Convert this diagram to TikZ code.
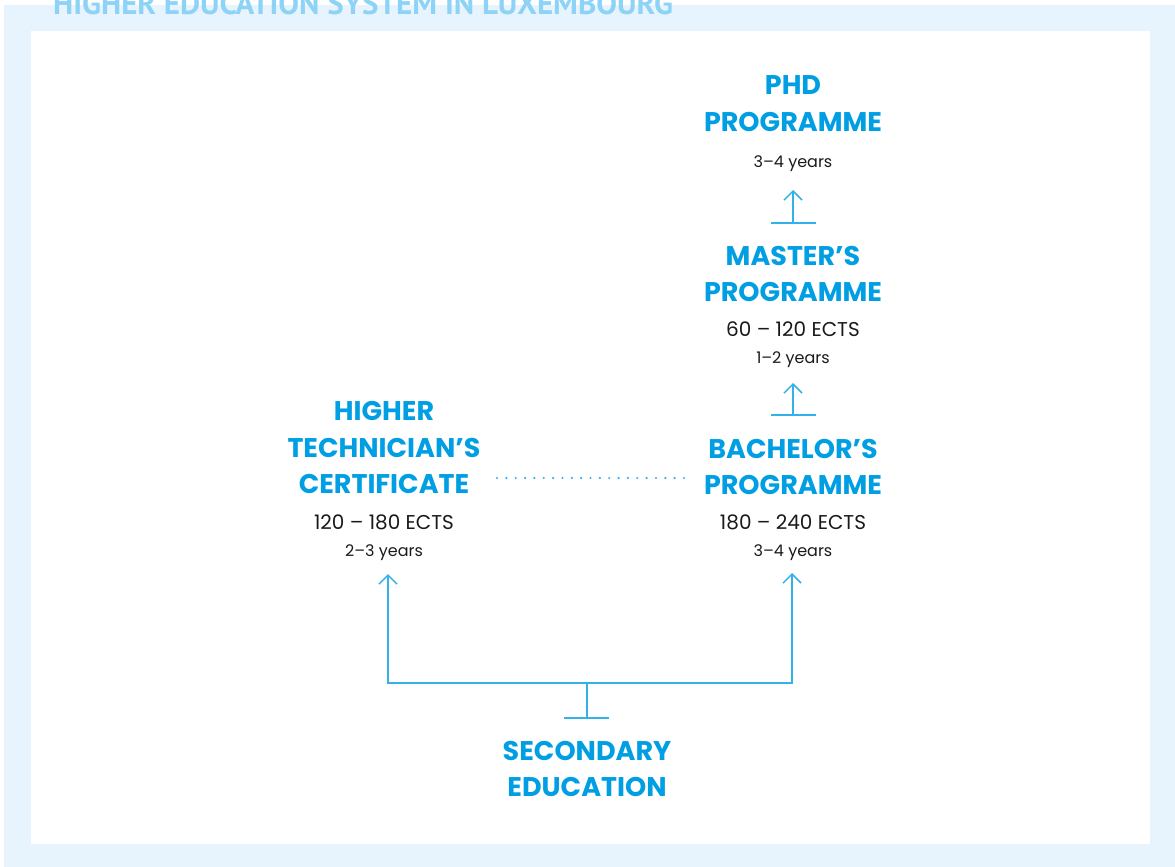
\documentclass[tikz,border=0pt]{standalone}
\usepackage{fontspec}
\setmainfont{Poppins}
\newfontfamily\titlefont{PT Sans}
\usetikzlibrary{arrows.meta}
\definecolor{bgblue}{HTML}{E8F4FD}
\definecolor{headblue}{HTML}{009FE3}
\definecolor{lineblue}{HTML}{33B1EA}
\definecolor{titleblue}{HTML}{8CD3F7}
\definecolor{textblack}{HTML}{1A1A1A}
\begin{document}
\begin{tikzpicture}[x=1pt,y=-1pt,
  every node/.style={inner sep=0pt, anchor=base},
  ttl/.style={font=\titlefont\fontsize{31}{31}\selectfont\bfseries, text=titleblue, anchor=base west},
  head/.style={font=\fontsize{27}{27}\selectfont\bfseries, text=headblue},
  ects/.style={font=\fontsize{20}{20}\selectfont, text=textblack},
  yrs/.style={font=\fontsize{16}{16}\selectfont, text=textblack},
  conn/.style={draw=lineblue, line width=1.5pt},
  up/.style={conn, -{Straight Barb[length=9pt,width=18pt]}},
  dots/.style={draw=lineblue, line width=2.4pt, line cap=round, dash pattern=on 0pt off 9.35pt}
]
\useasboundingbox (0,0) rectangle (1175,867);
\fill[white] (0,0) rectangle (1175,867);
\fill[bgblue] (4,5) rectangle (1175,867);
\fill[white] (31,31) rectangle (1150,844);
\node[ttl] (title) at (53,15) {HIGHER EDUCATION SYSTEM IN LUXEMBOURG};

% PhD
\node[head] (phd1) at (793,95) {PHD};
\node[head] (phd2) at (793,131) {PROGRAMME};
\node[yrs] (phdy) at (793,167) {3–4 years};
% Master
\node[head] (mas1) at (793,265) {MASTER’S};
\node[head] (mas2) at (793,301) {PROGRAMME};
\node[ects] (mase) at (793,336) {60 – 120 ECTS};
\node[yrs] (masy) at (793,363) {1–2 years};
% Bachelor
\node[head] (bac1) at (793,458) {BACHELOR’S};
\node[head] (bac2) at (793,494) {PROGRAMME};
\node[ects] (bace) at (793,529) {180 – 240 ECTS};
\node[yrs] (bacy) at (793,556) {3–4 years};
% Higher technician
\node[head] (htc1) at (384,420) {HIGHER};
\node[head] (htc2) at (384,457) {TECHNICIAN’S};
\node[head] (htc3) at (384,493) {CERTIFICATE};
\node[ects] (htce) at (384,529) {120 – 180 ECTS};
\node[yrs] (htcy) at (384,556) {2–3 years};
% Secondary
\node[head] (sec1) at (587,760) {SECONDARY};
\node[head] (sec2) at (587,796) {EDUCATION};

% coordinates
\coordinate (pbar) at (793,223);
\coordinate (pbarL) at (771,223);
\coordinate (pbarR) at (816,223);
\coordinate (ptip) at (793,190);
\coordinate (mbar) at (793,415);
\coordinate (mbarL) at (771,415);
\coordinate (mbarR) at (816,415);
\coordinate (mtip) at (793,383);
\coordinate (sbar) at (587,718);
\coordinate (sbarL) at (564,718);
\coordinate (sbarR) at (609,718);
\coordinate (junc) at (587,683);
\coordinate (htip) at (388,574);
\coordinate (btip) at (792,573);
\coordinate (dotA) at (497,478);
\coordinate (dotB) at (685,478);

\draw[conn] (pbarL) -- (pbarR);
\draw[up] (pbar) -- (ptip);
\draw[conn] (mbarL) -- (mbarR);
\draw[up] (mbar) -- (mtip);
\draw[conn] (sbarL) -- (sbarR);
\draw[conn] (sbar) -- (junc);
\draw[up] (junc) -| (htip);
\draw[up] (junc) -| (btip);
\draw[dots] (dotA) -- (dotB);
\end{tikzpicture}
\end{document}
